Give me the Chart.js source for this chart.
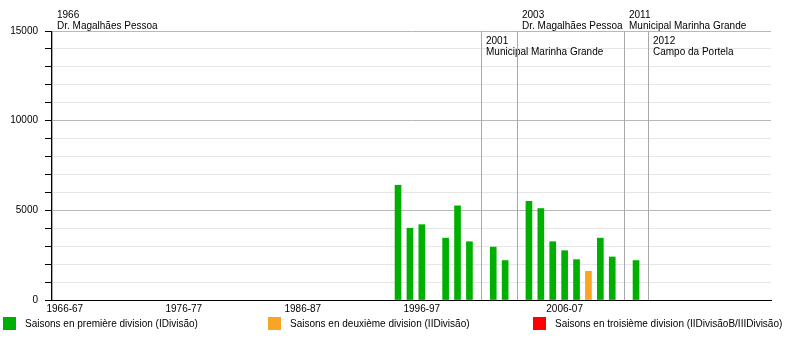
<!DOCTYPE html>
<html>
<head>
<meta charset="utf-8">
<script src="https://cdn.jsdelivr.net/npm/chart.js@4"></script>
<style>
  html, body { margin: 0; padding: 0; background: #fff; }
  #wrap { width: 800px; height: 350px; }
</style>
</head>
<body>
<div id="wrap"><canvas id="myChart" width="800" height="350"></canvas></div>
<script>
// attendance per season (season start year -> average crowd)
const seasons1 = ['1994-95', '1995-96', '1996-97', '1998-99', '1999-00', '2000-01', '2002-03', '2003-04',
    '2005-06', '2006-07', '2007-08', '2008-09', '2009-10', '2011-12', '2012-13', '2014-15']
const values1 = [6400, 4000, 4200, 3450, 5250, 3250, 2950, 2200, 5500, 5100, 3250, 2750, 2250, 3450, 2400, 2200]
const seasons2 = ['2010-11']
const values2 = [1600]
const seasons3 = []
const values3 = []

const divLabels = [
    'Saisons en première division (IDivisão)',
    'Saisons en deuxième division (IIDivisão)',
    'Saisons en troisième division (IIDivisãoB/IIIDivisão)',
]
const divColors = ['#00b000', '#f8a424', '#ff0000']

// x axis tick labels (as drawn in the picture) and where they sit on the year axis
const tickLabels = ['1966-67', '1976-77', '1986-87', '1996-97', '2006-07']
const tickYears = [1966, 1976, 1986, 1996, 2008]

// stadium changes
const stadiumYears = ['1966', '2001', '2003', '2011', '2012']
const stadiumNames = ['Dr. Magalhães Pessoa', 'Municipal Marinha Grande', 'Dr. Magalhães Pessoa',
    'Municipal Marinha Grande', 'Campo da Portela']
const stadiumAt = [1964.92, 2001, 2004, 2013, 2015]
const stadiumRow = [0, 1, 0, 0, 1]

const FONT = 'Liberation Sans, Arial, sans-serif'

function toPoints(seasons, values) {
    return seasons.map((s, i) => ({ x: parseInt(s), y: values[i] }))
}

const stadiumPlugin = {
    id: 'stadiums',
    afterDatasetsDraw(chart) {
        const ctx = chart.ctx
        const xs = chart.scales.x
        const area = chart.chartArea
        ctx.save()
        ctx.font = '10px ' + FONT
        ctx.fillStyle = '#000'
        ctx.textBaseline = 'alphabetic'
        stadiumAt.forEach((v, i) => {
            const px = Math.round(xs.getPixelForValue(v)) + 0.5
            ctx.strokeStyle = '#a8a8a8'
            ctx.lineWidth = 1
            ctx.beginPath()
            ctx.moveTo(px, area.top)
            ctx.lineTo(px, area.bottom)
            ctx.stroke()
            const base = stadiumRow[i] === 0 ? 18 : 44
            ctx.fillText(stadiumYears[i], px + 4.5, base)
            ctx.fillText(stadiumNames[i], px + 4.5, base + 11)
        })
        ctx.restore()
    },
}

const legendPlugin = {
    id: 'boxLegend',
    afterDraw(chart) {
        const ctx = chart.ctx
        const starts = [3, 268, 533]
        ctx.save()
        ctx.font = '10px ' + FONT
        ctx.textBaseline = 'middle'
        chart.data.datasets.forEach((ds, i) => {
            ctx.fillStyle = ds.backgroundColor
            ctx.fillRect(starts[i], 317, 13, 13)
            ctx.fillStyle = '#000'
            ctx.fillText(ds.label, starts[i] + 22, 324)
        })
        ctx.restore()
    },
}

function render_chart() {
    const data = {
        datasets: [
            { label: divLabels[0], data: toPoints(seasons1, values1), backgroundColor: divColors[0] },
            { label: divLabels[1], data: toPoints(seasons2, values2), backgroundColor: divColors[1] },
            { label: divLabels[2], data: toPoints(seasons3, values3), backgroundColor: divColors[2] },
        ],
    }
    const config = {
        type: 'bar',
        data: data,
        options: {
            responsive: false,
            animation: false,
            grouped: false,
            barThickness: 6,
            layout: { padding: { top: 31, right: 29, left: 0, bottom: 0 } },
            plugins: { legend: { display: false }, tooltip: { enabled: false } },
            scales: {
                x: {
                    type: 'linear',
                    offset: false,
                    min: 1964.84,
                    max: 2025.34,
                    grid: { display: false, drawTicks: false, offset: false },
                    border: { display: true, color: '#000', width: 1 },
                    afterBuildTicks: s => { s.ticks = tickYears.map(v => ({ value: v })) },
                    afterFit: s => { s.height = 50 },
                    ticks: {
                        autoSkip: false,
                        maxRotation: 0,
                        padding: 3,
                        color: '#000',
                        font: { family: FONT, size: 10 },
                        callback: (v, i) => tickLabels[i],
                    },
                },
                y: {
                    min: 0,
                    max: 15000,
                    afterFit: s => { s.width = 51 },
                    border: { display: true, color: '#000', width: 1 },
                    grid: {
                        color: c => (c.tick.value % 5000 === 0 ? '#b8b8b8' : '#e6e6e6'),
                        tickColor: '#000',
                        tickLength: 6,
                    },
                    ticks: {
                        stepSize: 1000,
                        padding: 7,
                        color: '#000',
                        font: { family: FONT, size: 10 },
                        callback: v => (v % 5000 === 0 ? String(v) : ''),
                    },
                },
            },
        },
        plugins: [stadiumPlugin, legendPlugin],
    }
    const myChart = new Chart(document.getElementById('myChart'), config)
}
document.addEventListener('DOMContentLoaded', render_chart)
</script>
</body>
</html>
